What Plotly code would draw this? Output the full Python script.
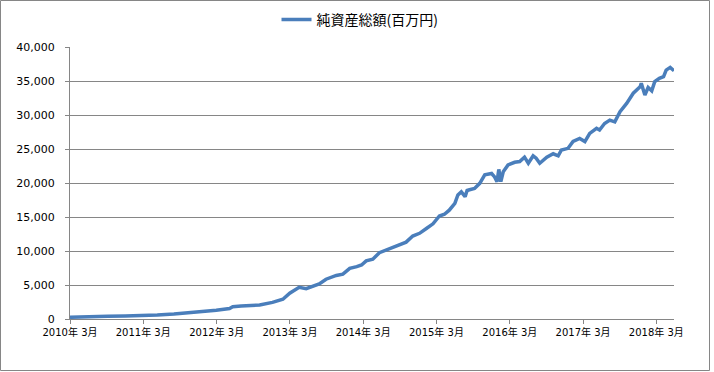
import plotly.graph_objects as go

# --- data ---
dates = [
    "2010-03-01", "2010-06-01", "2010-08-25", "2010-09-05", "2010-12-01",
    "2011-03-01", "2011-05-10", "2011-08-01", "2011-11-01", "2012-01-01",
    "2012-02-28", "2012-05-04", "2012-05-20", "2012-07-01", "2012-10-01",
    "2012-12-04", "2013-01-25", "2013-02-28", "2013-03-13", "2013-04-16",
    "2013-05-21", "2013-06-22", "2013-07-25", "2013-08-28", "2013-10-18",
    "2013-11-20", "2013-12-24", "2014-01-28", "2014-02-21", "2014-03-16",
    "2014-04-18", "2014-05-21", "2014-06-24", "2014-08-13", "2014-09-15",
    "2014-10-01", "2014-11-03", "2014-12-07", "2015-01-10", "2015-02-12",
    "2015-03-16", "2015-04-10", "2015-05-04", "2015-06-01", "2015-06-16",
    "2015-07-03", "2015-07-22", "2015-08-01", "2015-08-13", "2015-09-07",
    "2015-10-03", "2015-10-28", "2015-12-01", "2015-12-16", "2015-12-28",
    "2016-01-06", "2016-01-16", "2016-01-28", "2016-02-21", "2016-03-25",
    "2016-04-19", "2016-05-13", "2016-06-01", "2016-06-25", "2016-07-10",
    "2016-07-28", "2016-09-01", "2016-10-03", "2016-10-28", "2016-11-13",
    "2016-12-16", "2017-01-10", "2017-02-12", "2017-03-10", "2017-04-03",
    "2017-05-07", "2017-05-22", "2017-06-16", "2017-07-12", "2017-08-06",
    "2017-09-01", "2017-10-04", "2017-11-06", "2017-12-10", "2017-12-16",
    "2018-01-03", "2018-01-19", "2018-02-06", "2018-02-21", "2018-03-16",
    "2018-04-06", "2018-04-19", "2018-05-09", "2018-05-28",
]
net_assets = [
    250, 270, 290, 420, 450,
    470, 600, 750, 950, 1150,
    1300, 1550, 1800, 1900, 2050,
    2450, 2900, 3800, 4000, 4650,
    4450, 4850, 5150, 5850, 6400,
    6600, 7450, 7700, 7950, 8550,
    8800, 9750, 10150, 10700, 11000,
    11300, 12200, 12600, 13300, 14000,
    15150, 15400, 16000, 17000, 18250,
    18700, 18000, 18900, 19000, 19200,
    19950, 21200, 21400, 20900, 20200,
    22000, 20200, 21650, 22650, 23050,
    23150, 23800, 22900, 24000, 23650,
    22900, 23800, 24300, 24000, 24850,
    25100, 26100, 26550, 26100, 27300,
    28050, 27800, 28750, 29250, 29000,
    30500, 31700, 33200, 34150, 34650,
    32950, 34050, 33550, 34900, 35400,
    35650, 36600, 37000, 36500,
]
series_name = "純資産総額(百万円)"
tick_dates = ["2010-03-01", "2011-03-01", "2012-03-01", "2013-03-01", "2014-03-01",
              "2015-03-01", "2016-03-01", "2017-03-01", "2018-03-01"]
tick_labels = ["2010年 3月", "2011年 3月", "2012年 3月", "2013年 3月", "2014年 3月",
               "2015年 3月", "2016年 3月", "2017年 3月", "2018年 3月"]
y_ticks = [0, 5000, 10000, 15000, 20000, 25000, 30000, 35000, 40000]

W, H = 714, 372
L, R, T, B = 70, 40, 47, 53
pw, ph = W - L - R, H - T - B
grid = "#868686"
font_fam = "DejaVu Sans, Noto Sans CJK JP, sans-serif"

fig = go.Figure()
fig.add_trace(go.Scatter(
    x=dates, y=net_assets, mode="lines", name=series_name,
    line=dict(color="#4a7ebb", width=3.5),
))

fig.update_layout(
    width=W, height=H,
    margin=dict(l=L, r=R, t=T, b=B, autoexpand=False),
    paper_bgcolor="white", plot_bgcolor="white",
    showlegend=True,
    legend=dict(orientation="h", x=(360 - L) / pw, xanchor="center", y=1 + 27 / ph, yanchor="middle",
                font=dict(family="Noto Sans CJK JP, sans-serif", size=14, color="black"),
                bgcolor="rgba(0,0,0,0)"),
    font=dict(family=font_fam, size=10, color="black"),
    xaxis=dict(
        type="date", range=["2010-03-01", "2018-05-28"],
        tickmode="array", tickvals=tick_dates, ticktext=tick_labels,
        showgrid=False, showline=True, linecolor=grid, linewidth=1,
        ticks="outside", ticklen=4, tickcolor=grid,
        tickfont=dict(family=font_fam, size=10, color="black"),
        fixedrange=True,
    ),
    yaxis=dict(
        range=[0, 40000], tickmode="array", tickvals=y_ticks,
        tickformat=",d",
        showgrid=True, gridcolor=grid, gridwidth=1, zeroline=False,
        showline=True, linecolor=grid, linewidth=1,
        ticks="outside", ticklen=4, tickcolor=grid,
        ticklabelstandoff=8,
        tickfont=dict(family=font_fam, size=11, color="black"),
        fixedrange=True,
    ),
)

# outer chart border
fig.add_shape(type="rect", xref="paper", yref="paper",
              x0=(0.5 - L) / pw, x1=(709.5 - L) / pw,
              y0=(H - B - 370.5) / ph, y1=(H - B - 0.5) / ph,
              line=dict(color=grid, width=1), fillcolor="rgba(0,0,0,0)", layer="below")

fig.write_html("out.html", config={"displayModeBar": False})

# remove the default page margin so the chart sits at the window origin
with open("out.html", encoding="utf-8") as f:
    html = f.read()
html = html.replace("<head>", "<head><style>html,body{margin:0;padding:0;overflow:hidden;}</style>", 1)
with open("out.html", "w", encoding="utf-8") as f:
    f.write(html)
